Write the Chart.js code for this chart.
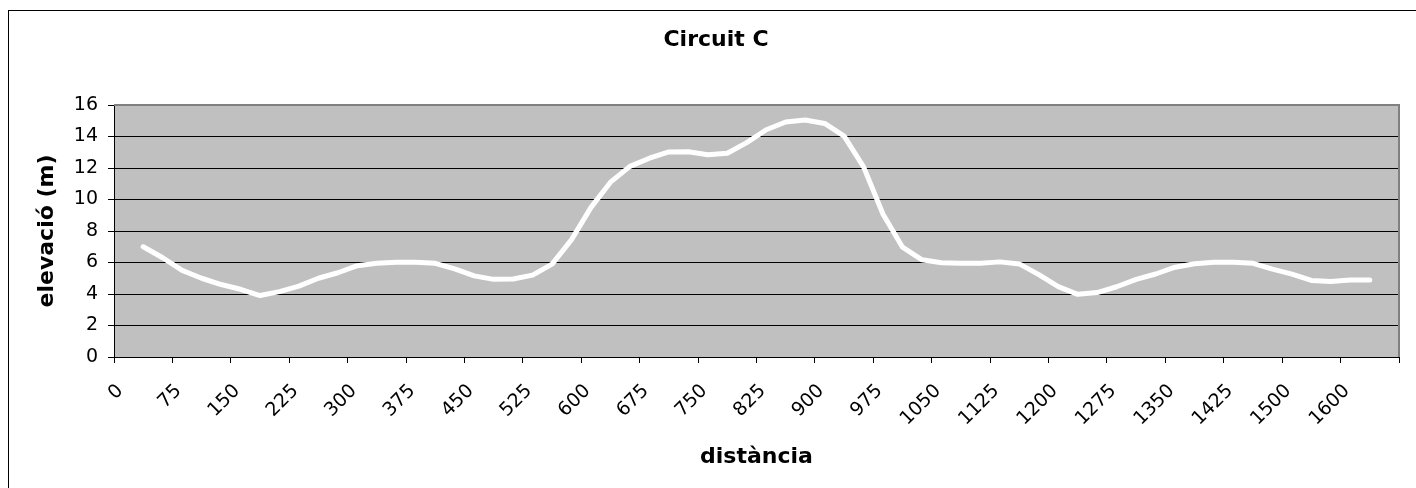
<!DOCTYPE html>
<html>
<head>
<meta charset="utf-8">
<script src="https://cdn.jsdelivr.net/npm/chart.js@4.4.1/dist/chart.umd.min.js"></script>
<style>
  html, body { margin: 0; padding: 0; background: #fff; }
  canvas { display: block; }
</style>
</head>
<body>
<canvas id="circuitChart" width="1416" height="488"></canvas>
<script>
// distance categories (m); a label is shown on every third one
const distances = [
  0, 25, 50, 75, 100, 125, 150, 175, 200, 225, 250, 275, 300, 325, 350, 375,
  400, 425, 450, 475, 500, 525, 550, 575, 600, 625, 650, 675, 700, 725, 750, 775,
  800, 825, 850, 875, 900, 925, 950, 975, 1000, 1025, 1050, 1075, 1100, 1125, 1150, 1175,
  1200, 1225, 1250, 1275, 1300, 1325, 1350, 1375, 1400, 1425, 1450, 1475, 1500,
  1525, 1550, 1600, 1625, 1650];

// elevation (m); first and last slot have no reading
const elevation = [null,
  7.0, 6.3, 5.5, 5.0, 4.6, 4.3, 3.9, 4.15, 4.5, 5.0, 5.35, 5.8, 5.95, 6.02, 6.02, 5.95,
  5.6, 5.15, 4.93, 4.95, 5.2, 5.9, 7.45, 9.5, 11.1, 12.1, 12.62, 13.02, 13.03, 12.84, 12.94, 13.61,
  14.43, 14.92, 15.05, 14.83, 14.02, 12.07, 9.06, 6.97, 6.17, 5.98, 5.95, 5.95, 6.04, 5.91, 5.23, 4.47,
  3.98, 4.09, 4.46, 4.93, 5.27, 5.7, 5.92, 6.02, 6.01, 5.95, 5.58, 5.26, 4.86,
  4.79, 4.89, 4.89, null];

const yTicks = [0, 2, 4, 6, 8, 10, 12, 14, 16];
const labelEvery = 3;

const FONT = 'DejaVu Sans';

const framePlugin = {
  id: 'frame',
  beforeDraw(chart) {
    const { ctx, chartArea: a } = chart;
    ctx.save();
    ctx.strokeStyle = '#000';
    ctx.lineWidth = 1;
    ctx.strokeRect(8.5, 10.5, 1430, 500);
    ctx.fillStyle = '#c0c0c0';
    ctx.fillRect(a.left, a.top, a.right - a.left, a.bottom - a.top);
    ctx.restore();
  },
  beforeDatasetsDraw(chart) {
    const { ctx, chartArea: a } = chart;
    ctx.save();
    ctx.strokeStyle = '#808080';
    ctx.lineWidth = 2;
    ctx.beginPath();
    ctx.moveTo(a.left, a.top);
    ctx.lineTo(a.right, a.top);
    ctx.lineTo(a.right, a.bottom);
    ctx.stroke();
    ctx.restore();
  }
};

new Chart(document.getElementById('circuitChart'), {
  type: 'line',
  data: {
    labels: distances.map(String),
    datasets: [{
      data: elevation,
      borderColor: '#ffffff',
      borderWidth: 5,
      borderCapStyle: 'round',
      borderJoinStyle: 'round',
      pointRadius: 0,
      tension: 0,
      fill: false
    }]
  },
  options: {
    responsive: false,
    devicePixelRatio: 1,
    animation: false,
    // outer frame runs past the right edge, so the title centres a bit right of the plot
    layout: { padding: { top: 10, left: 8, right: -8, bottom: 0 } },
    plugins: {
      legend: { display: false },
      tooltip: { enabled: false },
      title: {
        display: true,
        text: 'Circuit C',
        color: '#000',
        font: { family: FONT, size: 22, weight: 'bold' },
        padding: { top: 17, bottom: 51.6 }
      }
    },
    scales: {
      x: {
        type: 'category',
        offset: true,
        afterFit: (s) => { s.height = 131; s.paddingLeft = 0; s.paddingRight = 17; },
        border: { display: true, color: '#000', width: 1 },
        grid: {
          offset: true,
          drawOnChartArea: false,
          drawTicks: true,
          tickLength: 6,
          tickColor: (c) => (c.index === undefined || c.index % labelEvery === 0) ? '#000' : 'rgba(0,0,0,0)'
        },
        ticks: {
          autoSkip: false,
          maxRotation: 45,
          minRotation: 45,
          padding: 17,
          labelOffset: -3.5,
          color: '#000',
          font: { family: FONT, size: 19 },
          callback: function (v, i) { return i % labelEvery === 0 ? this.getLabelForValue(v) : ''; }
        },
        title: {
          display: true,
          text: 'distància',
          color: '#000',
          font: { family: FONT, size: 22, weight: 'bold' },
          padding: { top: 0, bottom: 18 }
        }
      },
      y: {
        min: 0,
        max: 16,
        afterFit: (s) => { s.width = 106; },
        afterBuildTicks: (s) => { s.ticks = yTicks.map(v => ({ value: v })); },
        border: { display: true, color: '#000', width: 1 },
        grid: {
          color: (c) => c.tick && c.tick.value === 16 ? 'rgba(0,0,0,0)' : '#000',
          tickColor: '#000',
          tickLength: 6,
          lineWidth: 1
        },
        ticks: {
          padding: 10,
          color: '#000',
          font: { family: FONT, size: 19 }
        },
        title: {
          display: true,
          text: 'elevació (m)',
          color: '#000',
          font: { family: FONT, size: 22, weight: 'bold' },
          padding: { top: 26, bottom: 0 }
        }
      }
    }
  },
  plugins: [framePlugin]
});
</script>
</body>
</html>
